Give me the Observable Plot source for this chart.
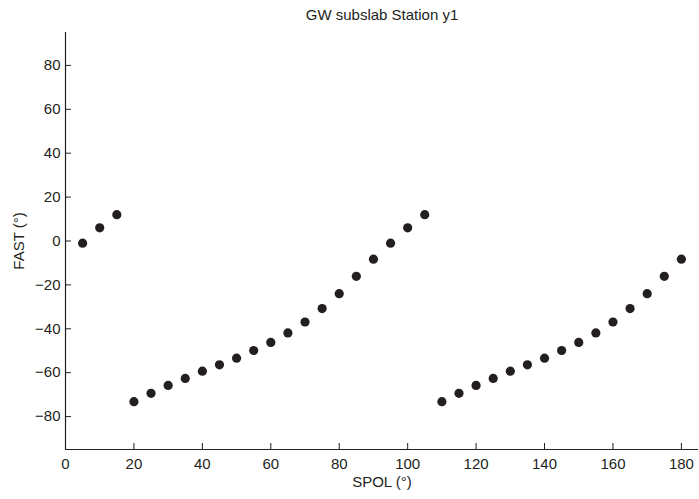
<!DOCTYPE html>
<html>
<head>
<meta charset="utf-8">
<script src="https://cdn.jsdelivr.net/npm/d3@7"></script>
<script src="https://cdn.jsdelivr.net/npm/@observablehq/plot@0.6"></script>
<style>
  body { margin: 0; background: #fff; }
  #chart svg { display: block; }
</style>
</head>
<body>
<div id="chart"></div>
<script>
const titleText = "GW subslab Station y1";
const xLabel = "SPOL (°)";
const yLabel = "FAST (°)";
const spol = [5,10,15,20,25,30,35,40,45,50,55,60,65,70,75,80,85,90,95,100,105,110,115,120,125,130,135,140,145,150,155,160,165,170,175,180];
const fast = [-1,6,12,-73.2,-69.4,-65.8,-62.6,-59.3,-56.4,-53.4,-49.9,-46.2,-41.9,-36.9,-30.8,-24,-16.1,-8.3,-1,6,12,-73.2,-69.4,-65.8,-62.6,-59.3,-56.4,-53.4,-49.9,-46.2,-41.9,-36.9,-30.8,-24,-16.1,-8.3];
const xTicks = [0,20,40,60,80,100,120,140,160,180];
const yTicks = [-80,-60,-40,-20,0,20,40,60,80];

const data = spol.map((s, i) => ({spol: s, fast: fast[i]}));
const ink = "#231f20";

const chart = Plot.plot({
  width: 699,
  height: 499,
  marginLeft: 65,
  marginRight: 1,
  marginTop: 32,
  marginBottom: 50,
  style: {fontFamily: "Liberation Sans, Arial, sans-serif", fontSize: "15px", color: ink, background: "#fff"},
  x: {domain: [0, 185]},
  y: {domain: [-95, 95]},
  marks: [
    Plot.ruleY([-95], {stroke: ink, strokeWidth: 1.2}),
    Plot.ruleX([0], {stroke: ink, strokeWidth: 1.2}),
    Plot.axisX(xTicks, {anchor: "bottom", tickSize: -6, tickPadding: 15, stroke: ink, strokeOpacity: 1, fill: ink, fontSize: 15,
      label: xLabel, labelAnchor: "center", labelArrow: "none", labelOffset: 37}),
    Plot.axisY(yTicks, {anchor: "left", tickSize: -6, tickPadding: 11, stroke: ink, strokeOpacity: 1, fill: ink, fontSize: 15,
      tickFormat: d => d < 0 ? "\u2212" + Math.abs(d) : String(d),
      label: yLabel, labelAnchor: "center", labelArrow: "none", labelOffset: 52}),
    Plot.dot(data, {x: "spol", y: "fast", r: 4.6, fill: ink, stroke: "none"}),
    Plot.text([titleText], {frameAnchor: "top", dy: -23, fontSize: 15, fill: ink})
  ]
});
document.getElementById("chart").appendChild(chart);
</script>
</body>
</html>
